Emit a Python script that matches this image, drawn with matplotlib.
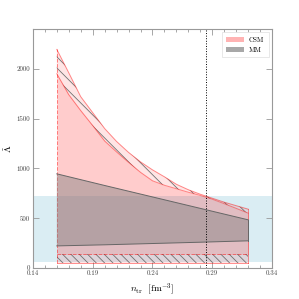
import numpy as np
import matplotlib
matplotlib.use("Agg")
import matplotlib.pyplot as plt
from matplotlib.patches import Patch

plt.rcParams['font.family'] = 'serif'
plt.rcParams['font.serif'] = ['cmr10']
plt.rcParams['mathtext.fontset'] = 'cm'
plt.rcParams['axes.formatter.use_mathtext'] = True
plt.rcParams['hatch.linewidth'] = 0.6

# CSM band
n_tr = [0.16, 0.17, 0.18, 0.19, 0.20, 0.21, 0.22, 0.23, 0.24,
        0.25, 0.26, 0.27, 0.28, 0.29, 0.30, 0.31, 0.32]
csm_hi_outer = [2195, 1960, 1720, 1560, 1400, 1270, 1160, 1065, 985,
                915, 840, 785, 740, 700, 660, 625, 590]
csm_hi_inner = [1950, 1740, 1580, 1430, 1275, 1165, 1060, 960, 875,
                830, 795, 760, 728, 690, 645, 598, 550]
csm_lo_inner = [140] * len(n_tr)
csm_lo_outer = [50] * len(n_tr)

# MM band
n_mm = [0.16, 0.20, 0.24, 0.28, 0.32]
mm_hi = [945, 828, 713, 598, 483]
mm_lo = [221, 232, 245, 258, 272]

# observational window and vertical marker
lam_band = (60, 720)
n_mark = 0.285

xticks = [0.14, 0.19, 0.24, 0.29, 0.34]
yticks = [0, 500, 1000, 1500, 2000]

fig = plt.figure(figsize=(2.99, 2.99), dpi=100)
ax = fig.add_axes([0.110, 0.104, 0.800, 0.799])

ax.axhspan(lam_band[0], lam_band[1], color='lightblue', alpha=0.45, lw=0, zorder=0)

# outer (hatched) parts of CSM
ax.fill_between(n_tr, csm_hi_inner, csm_hi_outer, facecolor=(1, 0, 0, 0.1),
                edgecolor='#707070', hatch='\\\\\\', lw=0, zorder=1)
ax.fill_between(n_tr, csm_lo_outer, csm_lo_inner, facecolor=(1, 0, 0, 0.1),
                edgecolor='#707070', hatch='\\\\\\\\', lw=0, zorder=1)
# inner CSM
ax.fill_between(n_tr, csm_lo_inner, csm_hi_inner, color='red', alpha=0.2, lw=0, zorder=1)

# CSM boundaries
edge = dict(color='red', alpha=0.45, lw=0.7, zorder=2)
ax.plot(n_tr, csm_hi_outer, **edge)
ax.plot(n_tr, csm_hi_inner, **edge)
ax.plot(n_tr, csm_lo_outer, **edge)
ax.plot(n_tr, csm_lo_inner, ls='--', **edge)
ax.plot([n_tr[0], n_tr[0]], [csm_lo_outer[0], csm_hi_outer[0]], ls='--', **edge)
ax.plot([n_tr[-1], n_tr[-1]], [csm_lo_outer[-1], csm_hi_outer[-1]], **edge)

# MM
ax.fill_between(n_mm, mm_lo, mm_hi, facecolor='gray', alpha=0.45, lw=0, zorder=3)
mm_edge = dict(color='#666666', lw=0.7, zorder=3)
ax.plot(n_mm, mm_hi, **mm_edge)
ax.plot(n_mm, mm_lo, **mm_edge)
ax.plot([n_mm[-1], n_mm[-1]], [mm_lo[-1], mm_hi[-1]], **mm_edge)

ax.axvline(n_mark, color='black', ls=':', lw=0.7, zorder=4)

ax.set_xlim(0.14, 0.34)
ax.set_ylim(0, 2400)
ax.set_xticks(xticks)
ax.set_xticks(np.arange(0.14, 0.3401, 0.01), minor=True)
ax.set_yticks(yticks)
ax.set_xticklabels([str(v) for v in xticks])
ax.set_yticklabels([str(v) for v in yticks])

for s in ax.spines.values():
    s.set_color('#999999')
    s.set_linewidth(0.8)
ax.tick_params(which='both', direction='in', top=True, right=True, colors='#999999',
               labelcolor='#444444', labelsize=5, width=0.6, pad=2)
ax.tick_params(which='major', length=4)
ax.tick_params(which='minor', length=2)

ax.set_xlabel(r'$n_{\rm tr}\ \ [{\rm fm}^{-3}]$', fontsize=7, labelpad=3)
ax.set_ylabel(r'$\tilde{\Lambda}$', fontsize=7, labelpad=2)

handles = [Patch(facecolor=(1, 0.7, 0.7), edgecolor='none', label='CSM'),
           Patch(facecolor=(0.66, 0.66, 0.66), edgecolor='none', label='MM')]
leg = ax.legend(handles=handles, loc='upper right', fontsize=5, frameon=True,
                handlelength=2.5, borderpad=0.6, labelspacing=0.7, fancybox=False)
leg.get_frame().set_edgecolor('#dddddd')
leg.get_frame().set_linewidth(0.6)

fig.savefig('out.png', dpi=100)
